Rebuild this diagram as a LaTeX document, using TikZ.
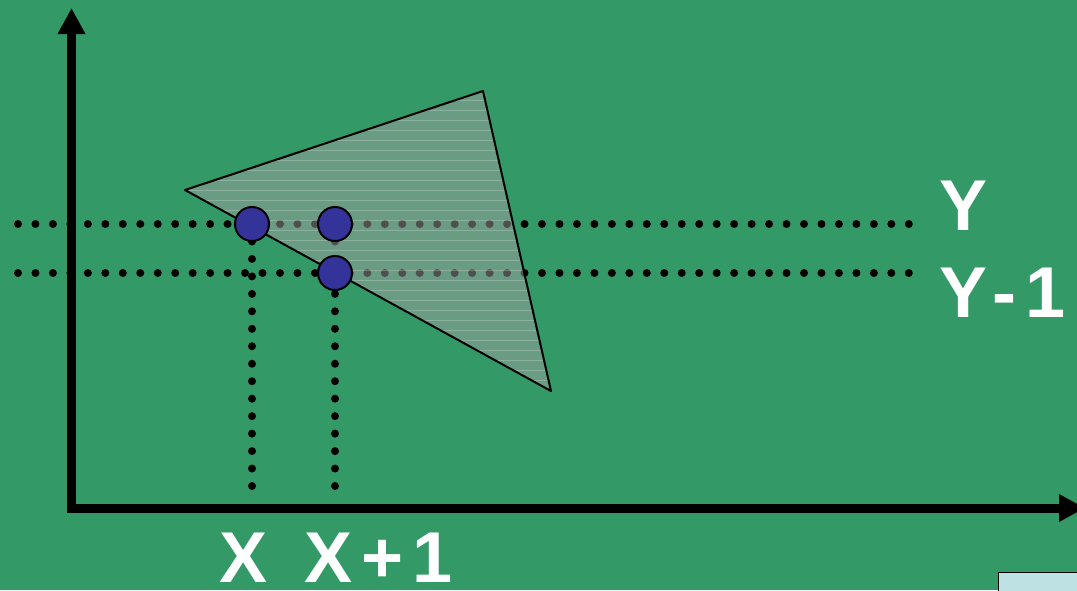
\documentclass[tikz,border=0pt]{standalone}
\usepackage{fontspec}
\setmainfont{Liberation Sans}
\usetikzlibrary{arrows.meta,patterns.meta}
\definecolor{bggreen}{RGB}{51,153,102}
\definecolor{dotblue}{RGB}{51,51,153}
\definecolor{boxcyan}{RGB}{190,225,228}

\begin{document}
\begin{tikzpicture}[x=0.75pt,y=-0.75pt,
    axis/.style={line width=6.75pt,-{Triangle[length=19.5pt,width=19.5pt]}},
    dotline/.style={line width=6pt,line cap=round,dash pattern=on 0pt off 13.1pt},
    pixel/.style={circle,draw,line width=1.5pt,fill=dotblue,minimum size=25.5pt,inner sep=0pt},
    lbl/.style={text=white,inner sep=0pt,font=\fontsize{54}{60}\selectfont\bfseries\addfontfeatures{LetterSpace=13}}]
  \fill[bggreen] (0,0) rectangle (1077,590);
  \useasboundingbox (0,0) rectangle (1077,590);
  % axes
  \coordinate (o) at (71.5,508);
  \coordinate (ytop) at (71.5,8);
  \coordinate (xend) at (1085,508);
  \draw[axis] ([yshift=-3.4pt]o) -- (ytop);
  \draw[axis] ([xshift=-3.4pt]o) -- (xend);
  % scan lines
  \coordinate (l0) at (18,224);
  \coordinate (r0) at (910,224);
  \coordinate (l1) at (18,273);
  \coordinate (r1) at (910,273);
  \coordinate (b0) at (252,490);
  \coordinate (b1) at (335,490);
  \draw[dotline] (l0) -- (r0);
  \draw[dotline] (l1) -- (r1);
  \draw[dotline] (252,224) -- (b0);
  \draw[dotline] (335,224) -- (b1);
  % triangle
  \coordinate (t0) at (185,190);
  \coordinate (t1) at (483,91);
  \coordinate (t2) at (551,391);
  \fill[gray!75,fill opacity=0.5] (t0) -- (t1) -- (t2) -- cycle;
  \fill[pattern={Lines[angle=0,distance=7.5pt,line width=0.6pt]},pattern color=white!75!gray,opacity=0.3]
    (t0) -- (t1) -- (t2) -- cycle;
  \draw[line width=1.5pt,line join=round] (t0) -- (t1) -- (t2) -- cycle;
  % pixels
  \node[pixel] (p0) at (252,224) {};
  \node[pixel] (p1) at (335,224) {};
  \node[pixel] (p2) at (335,273) {};
  % labels
  \node[lbl,anchor=base west] (ly)  at (939,230) {Y};
  \node[lbl,anchor=base west] (ly1) at (939,317) {Y-1};
  \node[lbl,anchor=base west] (lx)  at (219,582) {X};
  \node[lbl,anchor=base west] (lx1) at (304,582) {X+1};
  \draw[line width=0.75pt,fill=boxcyan] (998,572) rectangle (1090,600);
\end{tikzpicture}
\end{document}
